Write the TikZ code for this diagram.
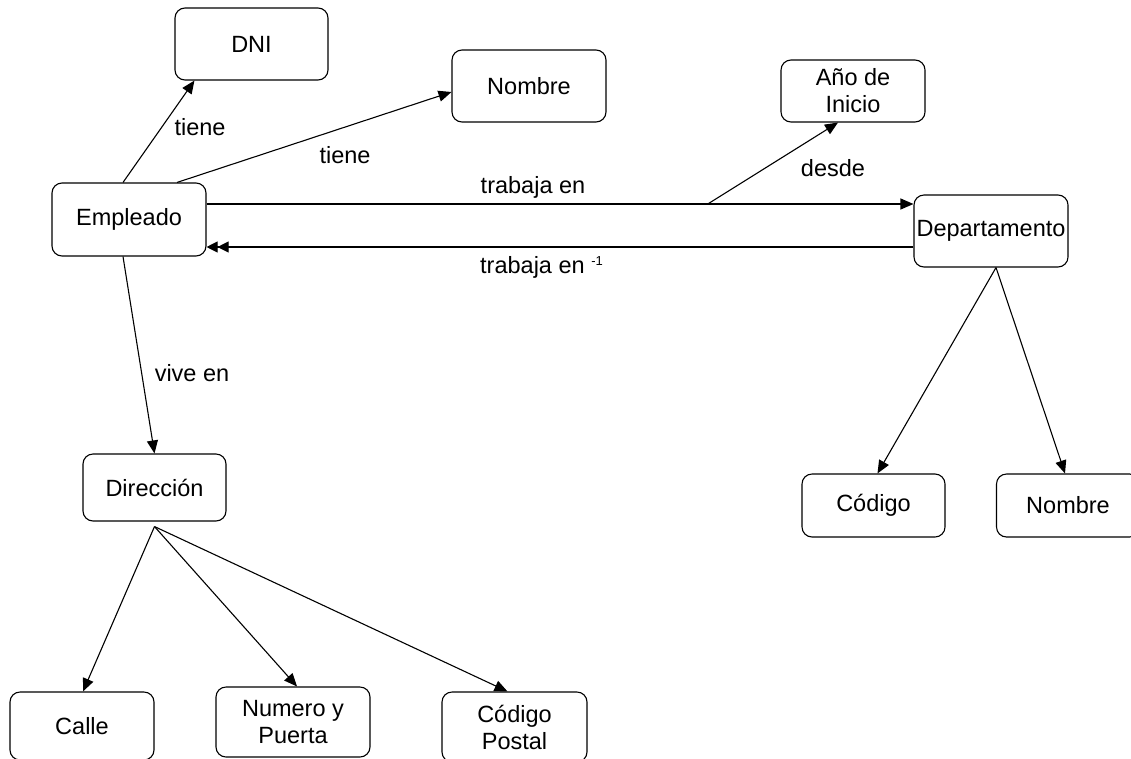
\documentclass[tikz,border=0pt]{standalone}
\usepackage{fontspec}
\setmainfont{Liberation Sans}
\usetikzlibrary{arrows.meta,calc}

\tikzset{
  entity/.style={draw, line width=1.1pt, rounded corners=10pt, align=center,
    inner sep=0pt, font=\fontsize{23.5}{27}\selectfont},
  rel/.style={line width=1.1pt, -{Triangle[length=13pt,width=11pt]}},
  relinv/.style={line width=1.1pt, -{Triangle[length=11pt,width=11pt]Triangle[length=11pt,width=11pt]}},
  lbl/.style={inner sep=0pt, font=\fontsize{23.5}{27}\selectfont}
}

\begin{document}
\begin{tikzpicture}[x=1pt,y=-1pt]
  \clip (0,0) rectangle (1131,758);
  \fill[white] (0,0) rectangle (1131,758);

  % entities
  \node[entity, minimum width=153pt, minimum height=72pt] (dni)  at (251.5,44)  {DNI};
  \node[entity, minimum width=154pt, minimum height=72pt] (nom1) at (529,86)    {Nombre};
  \node[entity, minimum width=144pt, minimum height=62pt] (anio) at (853,91)    {Año de\\Inicio};
  \node[entity, minimum width=154pt, minimum height=73pt] (emp)  at (129,219.5) {Empleado};
  \node[entity, minimum width=154pt, minimum height=72pt] (dep)  at (991,231)   {Departamento};
  \node[entity, minimum width=143pt, minimum height=67pt] (dir)  at (154.5,487.5) {Dirección};
  \node[entity, minimum width=143pt, minimum height=63pt] (cod)  at (873.5,505.5) {Código};
  \node[entity, minimum width=143pt, minimum height=63pt] (nom2) at (1068,505.5)  {Nombre};
  \node[entity, minimum width=144pt, minimum height=68pt] (calle) at (82,726)   {Calle};
  \node[entity, minimum width=154pt, minimum height=70pt] (num)  at (293,722)   {Numero y\\Puerta};
  \node[entity, minimum width=145pt, minimum height=70pt] (cp)   at (514.5,727) {Código\\Postal};

  % Empleado attributes
  \draw[rel] ($(emp.north)+(-6,0)$) -- ($(dni.south west)+(20,0)$);
  \draw[rel] ($(emp.north)+(48,0)$) -- ($(nom1.west)+(0,6)$);
  \node[lbl] (l1) at (200,127) {tiene};
  \node[lbl] (l2) at (345,155) {tiene};

  % trabaja en and its inverse
  \coordinate (t1) at ($(emp.east)+(0,-15.5)$);
  \coordinate (t2) at ($(dep.west)+(0,-27)$);
  \draw[rel] (t1) -- (t2);
  \coordinate (d0) at ($(t1)!0.709!(t2)$);
  \draw[rel] (d0) -- ($(anio.south)+(-15,0)$);
  \node[lbl] (l3) at (533,187) {trabaja en};
  \node[lbl] (l4) at (833,168) {desde};
  \draw[relinv] ($(dep.west)+(0,16)$) -- ($(emp.east)+(0,27.5)$);
  \node[lbl, anchor=west] (l5) at (480,267) {trabaja en \raisebox{8pt}{\fontsize{13}{13}\selectfont -1}};

  % vive en
  \draw[rel] ($(emp.south)+(-6,0)$) -- (dir.north);
  \node[lbl] (l6) at (192,373) {vive en};

  % Departamento attributes
  \coordinate (dp) at ($(dep.south)+(5,0)$);
  \draw[rel] (dp) -- ($(cod.north)+(4,0)$);
  \draw[rel] (dp) -- ($(nom2.north)+(-3,0)$);

  % Dirección attributes
  \coordinate (dr) at ($(dir.south)+(0,5)$);
  \draw[rel] (dr) -- ($(calle.north)+(1,0)$);
  \draw[rel] (dr) -- ($(num.north)+(4,0)$);
  \draw[rel] (dr) -- ($(cp.north)+(-7,0)$);
\end{tikzpicture}
\end{document}
